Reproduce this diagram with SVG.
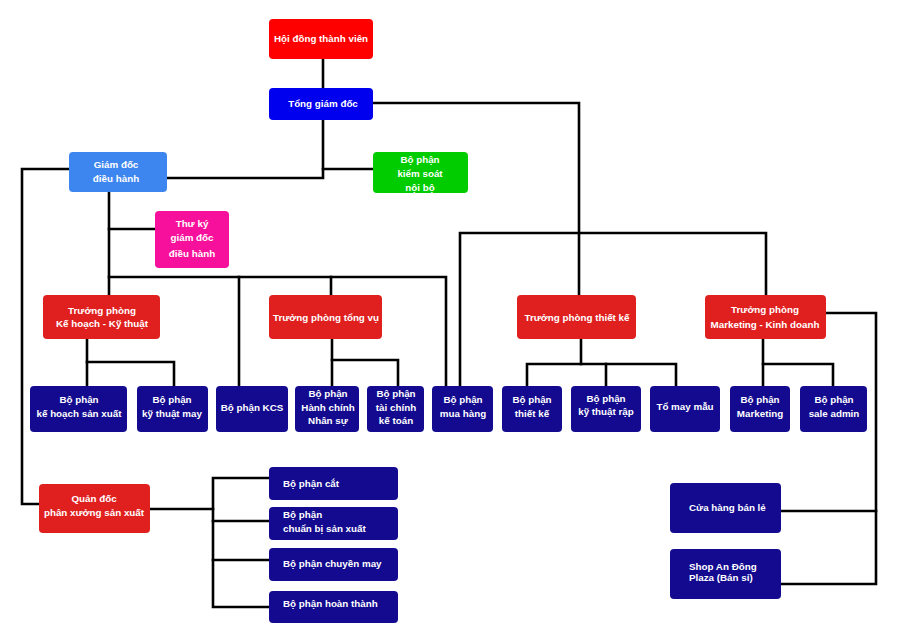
<svg xmlns="http://www.w3.org/2000/svg" width="900" height="635" viewBox="0 0 900 635">
<style>
.red{fill:#ff0000}
.rd{fill:#e0201f}
.blue{fill:#0000ee}
.lb{fill:#3d86f0}
.gr{fill:#00cc00}
.mg{fill:#f7109b}
.nv{fill:#130a8f}
text{font-family:"Liberation Sans",Arial,sans-serif;font-weight:bold;font-size:9.8px;fill:#ffffff;text-anchor:middle}
text.l{text-anchor:start}
.c{fill:none;stroke:#000000;stroke-width:2.6;stroke-linejoin:miter;stroke-linecap:square}
</style>
<rect width="900" height="635" fill="#ffffff"/>
<g id="connectors">
<path class="c" d="M323 59V88"/>
<path class="c" d="M373 103H579V295"/>
<path class="c" d="M323 120V178H167"/>
<path class="c" d="M323 169H373"/>
<path class="c" d="M69 169H22V504H39"/>
<path class="c" d="M109 192V295"/>
<path class="c" d="M109 229H155"/>
<path class="c" d="M109 277H446V387"/>
<path class="c" d="M239 277V387"/>
<path class="c" d="M331 277V295"/>
<path class="c" d="M460 387V233H766V296"/>
<path class="c" d="M87 339V387"/>
<path class="c" d="M87 362H174V387"/>
<path class="c" d="M332 339V387"/>
<path class="c" d="M332 360H398V387"/>
<path class="c" d="M581 339V364"/>
<path class="c" d="M527 387V364H676V387"/>
<path class="c" d="M606 364V387"/>
<path class="c" d="M763 339V387"/>
<path class="c" d="M763 364H833V387"/>
<path class="c" d="M826 313H876V584H781"/>
<path class="c" d="M781 511H876"/>
<path class="c" d="M150 509H213"/>
<path class="c" d="M269 478H213V607H269"/>
<path class="c" d="M213 521H269"/>
<path class="c" d="M213 560H269"/>
</g>
<g id="hdtv"><rect class="red" x="269" y="19" width="104" height="40" rx="4"/><text x="321" y="42">Hội đồng thành viên</text></g>
<g id="tgd"><rect class="blue" x="269" y="88" width="104" height="32" rx="4"/><text x="323" y="107">Tổng giám đốc</text></g>
<g id="gddh"><rect class="lb" x="69" y="152" width="98" height="40" rx="4"/><text x="116" y="168">Giám đốc</text><text x="116" y="182">điều hành</text></g>
<g id="ksnb"><rect class="gr" x="373" y="152" width="95" height="41" rx="4"/><text x="420" y="163">Bộ phận</text><text x="420" y="177">kiểm soát</text><text x="420" y="191">nội bộ</text></g>
<g id="thuky"><rect class="mg" x="155" y="211" width="74" height="57" rx="4"/><text x="192" y="227">Thư ký</text><text x="192" y="241">giám đốc</text><text x="192" y="257">điều hành</text></g>
<g id="tpkh"><rect class="rd" x="43" y="295" width="117" height="44" rx="4"/><text x="102" y="314">Trưởng phòng</text><text x="102" y="327">Kế hoạch - Kỹ thuật</text></g>
<g id="tptv"><rect class="rd" x="269" y="295" width="113" height="44" rx="4"/><text x="326" y="321">Trưởng phòng tổng vụ</text></g>
<g id="tptk"><rect class="rd" x="517" y="295" width="119" height="44" rx="4"/><text x="577" y="321">Trưởng phòng thiết kế</text></g>
<g id="tpmk"><rect class="rd" x="705" y="295" width="121" height="44" rx="4"/><text x="765" y="313">Trưởng phòng</text><text x="765" y="328">Marketing - Kinh doanh</text></g>
<g id="khsx"><rect class="nv" x="30" y="386" width="97" height="46" rx="4"/><text x="79" y="403">Bộ phận</text><text x="79" y="417">kế hoạch sản xuất</text></g>
<g id="ktmay"><rect class="nv" x="137" y="386" width="71" height="46" rx="4"/><text x="172" y="403">Bộ phận</text><text x="172" y="417">kỹ thuật may</text></g>
<g id="kcs"><rect class="nv" x="216" y="386" width="72" height="46" rx="4"/><text x="252" y="411">Bộ phận KCS</text></g>
<g id="hcns"><rect class="nv" x="295" y="386" width="64" height="46" rx="4"/><text x="328" y="397">Bộ phận</text><text x="328" y="411">Hành chính</text><text x="328" y="424">Nhân sự</text></g>
<g id="tckt"><rect class="nv" x="367" y="386" width="57" height="46" rx="4"/><text x="396" y="397">Bộ phận</text><text x="396" y="411">tài chính</text><text x="396" y="424">kế toán</text></g>
<g id="muahang"><rect class="nv" x="432" y="386" width="61" height="46" rx="4"/><text x="463" y="403">Bộ phận</text><text x="463" y="417">mua hàng</text></g>
<g id="bptk"><rect class="nv" x="502" y="386" width="60" height="46" rx="4"/><text x="532" y="403">Bộ phận</text><text x="532" y="417">thiết kế</text></g>
<g id="ktrap"><rect class="nv" x="571" y="386" width="70" height="46" rx="4"/><text x="606" y="402">Bộ phận</text><text x="606" y="415">kỹ thuật rập</text></g>
<g id="tomaymau"><rect class="nv" x="650" y="386" width="70" height="46" rx="4"/><text x="685" y="410">Tổ may mẫu</text></g>
<g id="bpmk"><rect class="nv" x="730" y="386" width="60" height="46" rx="4"/><text x="760" y="403">Bộ phận</text><text x="760" y="417">Marketing</text></g>
<g id="saleadmin"><rect class="nv" x="800" y="386" width="67" height="46" rx="4"/><text x="834" y="403">Bộ phận</text><text x="834" y="417">sale admin</text></g>
<g id="quandoc"><rect class="rd" x="39" y="484" width="111" height="49" rx="4"/><text x="94" y="502">Quản đốc</text><text x="94" y="516">phân xưởng sản xuất</text></g>
<g id="cat"><rect class="nv" x="269" y="467" width="129" height="33" rx="4"/><text class="l" x="283" y="487">Bộ phận cắt</text></g>
<g id="chuanbi"><rect class="nv" x="269" y="507" width="129" height="33" rx="4"/><text class="l" x="283" y="518">Bộ phận</text><text class="l" x="283" y="532">chuẩn bị sản xuất</text></g>
<g id="chuyenmay"><rect class="nv" x="269" y="548" width="129" height="33" rx="4"/><text class="l" x="283" y="567">Bộ phận chuyền may</text></g>
<g id="hoanthanh"><rect class="nv" x="269" y="591" width="129" height="32" rx="4"/><text class="l" x="283" y="607">Bộ phận hoàn thành</text></g>
<g id="cuahang"><rect class="nv" x="670" y="483" width="111" height="50" rx="4"/><text class="l" x="689" y="511">Cửa hàng bán lẻ</text></g>
<g id="shop"><rect class="nv" x="670" y="549" width="111" height="50" rx="4"/><text class="l" x="689" y="570">Shop An Đông</text><text class="l" x="689" y="581">Plaza (Bán sỉ)</text></g>
</svg>
